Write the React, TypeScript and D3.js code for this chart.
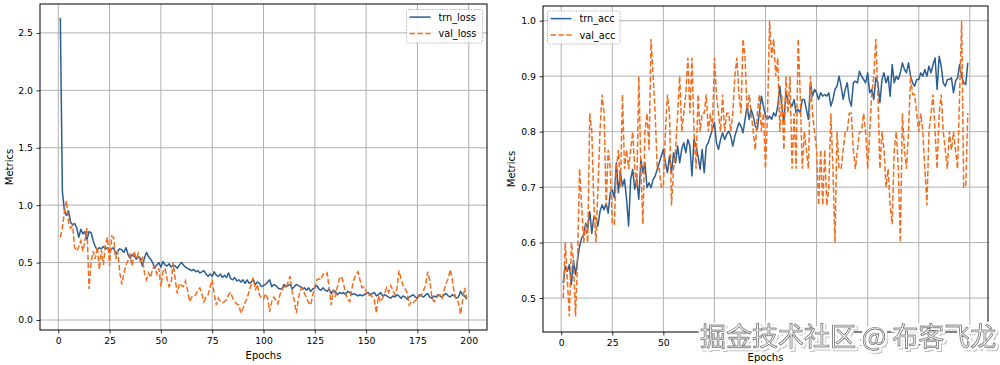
import { useEffect, useRef } from 'react';
import * as d3 from 'd3';

// epochs 1..199
const epochs = d3.range(1, 200);

const trnLoss = [
  2.63, 1.12, 0.95, 0.91, 0.95, 0.85, 0.83, 0.84, 0.80, 0.72,
  0.79, 0.75, 0.77, 0.70, 0.77, 0.76, 0.69, 0.64, 0.61, 0.63,
  0.62, 0.64, 0.62, 0.63, 0.60, 0.62, 0.63, 0.57, 0.60, 0.62,
  0.61, 0.59, 0.63, 0.57, 0.54, 0.57, 0.56, 0.53, 0.55, 0.54,
  0.47, 0.54, 0.59, 0.55, 0.53, 0.50, 0.45, 0.48, 0.50, 0.46,
  0.51, 0.48, 0.47, 0.49, 0.46, 0.48, 0.47, 0.45, 0.48, 0.50,
  0.48, 0.46, 0.45, 0.44, 0.43, 0.44, 0.42, 0.43, 0.41, 0.42,
  0.43, 0.40, 0.38, 0.40, 0.38, 0.42, 0.39, 0.38, 0.40, 0.37,
  0.39, 0.37, 0.41, 0.36, 0.35, 0.37, 0.34, 0.35, 0.33, 0.35,
  0.32, 0.35, 0.32, 0.33, 0.35, 0.31, 0.33, 0.32, 0.29, 0.30,
  0.31, 0.33, 0.35, 0.29, 0.31, 0.30, 0.28, 0.27, 0.27, 0.31,
  0.29, 0.30, 0.31, 0.27, 0.29, 0.31, 0.30, 0.29, 0.27, 0.28,
  0.26, 0.28, 0.25, 0.27, 0.28, 0.30, 0.27, 0.26, 0.28, 0.26,
  0.25, 0.27, 0.23, 0.26, 0.25, 0.22, 0.24, 0.23, 0.24, 0.22,
  0.25, 0.24, 0.22, 0.23, 0.22, 0.21, 0.22, 0.21, 0.22, 0.23,
  0.24, 0.22, 0.23, 0.24, 0.21, 0.22, 0.24, 0.21, 0.22, 0.21,
  0.20, 0.19, 0.21, 0.20, 0.22, 0.21, 0.19, 0.21, 0.20, 0.18,
  0.20, 0.21, 0.22, 0.20, 0.19, 0.22, 0.21, 0.20, 0.22, 0.23,
  0.20, 0.19, 0.21, 0.20, 0.22, 0.21, 0.20, 0.22, 0.23, 0.21,
  0.20, 0.22, 0.21, 0.19, 0.20, 0.25, 0.22, 0.21, 0.18,
];

const valLoss = [
  0.72, 0.80, 0.94, 1.04, 0.85, 0.80, 0.82, 0.63, 0.60, 0.64,
  0.69, 0.60, 0.69, 0.80, 0.27, 0.50, 0.60, 0.53, 0.64, 0.44,
  0.61, 0.48, 0.66, 0.72, 0.47, 0.73, 0.72, 0.53, 0.60, 0.41,
  0.31, 0.41, 0.48, 0.52, 0.57, 0.47, 0.60, 0.53, 0.58, 0.50,
  0.54, 0.41, 0.35, 0.41, 0.37, 0.45, 0.47, 0.40, 0.45, 0.29,
  0.42, 0.45, 0.36, 0.29, 0.32, 0.50, 0.35, 0.23, 0.32, 0.30,
  0.29, 0.34, 0.26, 0.16, 0.20, 0.20, 0.22, 0.26, 0.28, 0.23,
  0.16, 0.20, 0.22, 0.29, 0.35, 0.23, 0.13, 0.19, 0.16, 0.15,
  0.16, 0.18, 0.22, 0.24, 0.19, 0.16, 0.14, 0.13, 0.06, 0.10,
  0.15, 0.19, 0.25, 0.31, 0.37, 0.26, 0.31, 0.22, 0.19, 0.18,
  0.23, 0.19, 0.07, 0.16, 0.20, 0.17, 0.14, 0.22, 0.26, 0.29,
  0.28, 0.33, 0.38, 0.24, 0.17, 0.06, 0.19, 0.26, 0.28, 0.23,
  0.19, 0.15, 0.13, 0.22, 0.28, 0.35, 0.36, 0.35, 0.40, 0.39,
  0.41, 0.28, 0.13, 0.26, 0.20, 0.29, 0.36, 0.38, 0.32, 0.23,
  0.18, 0.16, 0.27, 0.35, 0.39, 0.42, 0.35, 0.28, 0.29, 0.25,
  0.21, 0.22, 0.20, 0.18, 0.06, 0.21, 0.16, 0.19, 0.23, 0.28,
  0.24, 0.30, 0.26, 0.22, 0.27, 0.43, 0.36, 0.30, 0.27, 0.24,
  0.13, 0.16, 0.15, 0.17, 0.19, 0.21, 0.22, 0.26, 0.30, 0.42,
  0.35, 0.20, 0.16, 0.18, 0.21, 0.22, 0.19, 0.26, 0.32, 0.36,
  0.44, 0.35, 0.23, 0.18, 0.15, 0.05, 0.17, 0.28, 0.19,
];

const trnAcc = [
  0.527, 0.557, 0.548, 0.560, 0.524, 0.568, 0.542, 0.569, 0.593, 0.608,
  0.614, 0.635, 0.626, 0.656, 0.617, 0.647, 0.644, 0.630, 0.656, 0.668,
  0.659, 0.671, 0.653, 0.689, 0.695, 0.681, 0.744, 0.690, 0.726, 0.702,
  0.714, 0.678, 0.630, 0.714, 0.732, 0.696, 0.714, 0.678, 0.750, 0.726,
  0.744, 0.699, 0.708, 0.699, 0.714, 0.720, 0.732, 0.744, 0.756, 0.768,
  0.744, 0.726, 0.756, 0.726, 0.762, 0.744, 0.774, 0.744, 0.768, 0.780,
  0.762, 0.786, 0.774, 0.720, 0.786, 0.774, 0.756, 0.732, 0.768, 0.726,
  0.774, 0.780, 0.792, 0.804, 0.816, 0.780, 0.768, 0.786, 0.798, 0.786,
  0.795, 0.801, 0.792, 0.774, 0.792, 0.804, 0.816, 0.810, 0.798, 0.822,
  0.846, 0.822, 0.840, 0.828, 0.810, 0.804, 0.834, 0.864, 0.846, 0.828,
  0.822, 0.828, 0.822, 0.834, 0.828, 0.846, 0.882, 0.846, 0.816, 0.870,
  0.858, 0.852, 0.846, 0.858, 0.834, 0.840, 0.834, 0.858, 0.858, 0.840,
  0.822, 0.888, 0.864, 0.876, 0.870, 0.858, 0.870, 0.864, 0.867, 0.864,
  0.870, 0.846, 0.858, 0.876, 0.882, 0.900, 0.882, 0.858, 0.876, 0.888,
  0.858, 0.846, 0.888, 0.891, 0.888, 0.909, 0.900, 0.894, 0.888, 0.906,
  0.870, 0.876, 0.858, 0.897, 0.888, 0.852, 0.894, 0.906, 0.888, 0.900,
  0.864, 0.921, 0.888, 0.900, 0.894, 0.906, 0.924, 0.912, 0.906, 0.924,
  0.900, 0.888, 0.882, 0.894, 0.894, 0.906, 0.900, 0.912, 0.900, 0.918,
  0.906, 0.921, 0.933, 0.876, 0.936, 0.918, 0.888, 0.882, 0.894, 0.894,
  0.897, 0.870, 0.891, 0.897, 0.921, 0.900, 0.888, 0.885, 0.924,
];

const valAcc = [
  0.500, 0.600, 0.533, 0.467, 0.600, 0.567, 0.467, 0.567, 0.733, 0.667,
  0.600, 0.633, 0.600, 0.833, 0.800, 0.667, 0.600, 0.700, 0.800, 0.867,
  0.833, 0.667, 0.767, 0.733, 0.633, 0.633, 0.733, 0.767, 0.700, 0.867,
  0.733, 0.767, 0.733, 0.767, 0.800, 0.733, 0.700, 0.900, 0.733, 0.633,
  0.800, 0.833, 0.767, 0.967, 0.900, 0.833, 0.733, 0.733, 0.700, 0.700,
  0.800, 0.867, 0.833, 0.667, 0.733, 0.767, 0.833, 0.900, 0.800, 0.833,
  0.867, 0.933, 0.833, 0.933, 0.800, 0.733, 0.867, 0.800, 0.833, 0.833,
  0.867, 0.800, 0.833, 0.800, 0.933, 0.867, 0.833, 0.800, 0.867, 0.800,
  0.833, 0.833, 0.800, 0.833, 0.900, 0.933, 0.867, 0.833, 0.967, 0.933,
  0.833, 0.867, 0.833, 0.800, 0.767, 0.833, 0.867, 0.800, 0.833, 0.733,
  0.833, 1.000, 0.933, 0.967, 0.900, 0.933, 0.800, 0.867, 0.767, 0.900,
  0.833, 0.900, 0.733, 0.833, 0.733, 0.967, 0.867, 0.733, 0.800, 0.767,
  0.733, 0.900, 0.833, 0.800, 0.767, 0.667, 0.767, 0.667, 0.767, 0.667,
  0.700, 0.833, 0.733, 0.600, 0.800, 0.733, 0.733, 0.767, 0.800, 0.800,
  0.833, 0.833, 0.767, 0.733, 0.767, 0.800, 0.800, 0.833, 0.800, 0.733,
  0.800, 0.867, 0.900, 0.967, 0.867, 0.733, 0.800, 0.767, 0.700, 0.733,
  0.667, 0.633, 0.767, 0.800, 0.733, 0.600, 0.833, 0.767, 0.733, 0.800,
  0.900, 0.867, 0.867, 0.833, 0.800, 0.833, 0.800, 0.733, 0.667, 0.800,
  0.833, 0.867, 0.800, 0.733, 0.833, 0.867, 0.800, 0.767, 0.733, 0.800,
  0.767, 0.800, 0.767, 0.733, 0.867, 1.000, 0.700, 0.700, 0.833,
];

const epochTicks = [0, 25, 50, 75, 100, 125, 150, 175, 200];
const lossTicks = [0.0, 0.5, 1.0, 1.5, 2.0, 2.5];
const accTicks = [0.5, 0.6, 0.7, 0.8, 0.9, 1.0];

const BLUE = '#2b5e92';
const ORANGE = '#f26d1d';
const FONT = '"DejaVu Sans", sans-serif';

const panels = [
  {
    box: { left: 40, right: 487, top: 4, bottom: 330 },
    yDomain: [-0.087, 2.752],
    yTicks: lossTicks,
    trn: trnLoss, val: valLoss,
    names: ['trn_loss', 'val_loss'],
    legend: { x: 406.5, y: 9.5, w: 76, h: 33.5 },
    ylabelX: 9,
  },
  {
    box: { left: 543, right: 988, top: 6, bottom: 332 },
    yDomain: [0.4388, 1.0265],
    yTicks: accTicks,
    trn: trnAcc, val: valAcc,
    names: ['trn_acc', 'val_acc'],
    legend: { x: 547.5, y: 11, w: 72.5, h: 33 },
    ylabelX: 511,
  },
];

const App = () => {
  const svgRef = useRef<SVGSVGElement>(null);

  useEffect(() => {
    const svg = d3.select(svgRef.current);
    svg.selectAll('*').remove();

    // watermark effect: grey drop shadow + white halo under the glyphs
    const filter = svg.append('defs').append('filter')
      .attr('id', 'wm-fx')
      .attr('x', '-5%').attr('y', '-30%')
      .attr('width', '110%').attr('height', '160%');
    filter.append('feMorphology')
      .attr('in', 'SourceAlpha').attr('operator', 'dilate').attr('radius', 1)
      .attr('result', 'fat');
    filter.append('feOffset')
      .attr('in', 'fat').attr('dx', 1.5).attr('dy', 1.5).attr('result', 'off');
    filter.append('feFlood').attr('flood-color', '#bdbdbd').attr('result', 'grey');
    filter.append('feComposite')
      .attr('in', 'grey').attr('in2', 'off').attr('operator', 'in').attr('result', 'shadow');
    filter.append('feMorphology')
      .attr('in', 'SourceAlpha').attr('operator', 'dilate').attr('radius', 1.5)
      .attr('result', 'halo0');
    filter.append('feFlood').attr('flood-color', '#ffffff').attr('result', 'white');
    filter.append('feComposite')
      .attr('in', 'white').attr('in2', 'halo0').attr('operator', 'in').attr('result', 'halo');
    const merge = filter.append('feMerge');
    merge.append('feMergeNode').attr('in', 'shadow');
    merge.append('feMergeNode').attr('in', 'halo');
    merge.append('feMergeNode').attr('in', 'SourceGraphic');

    panels.forEach(p => {
      const { left, right, top, bottom } = p.box;
      const g = svg.append('g');

      const x = d3.scaleLinear().domain([-8.9, 208.9]).range([left, right]);
      const y = d3.scaleLinear().domain(p.yDomain).range([bottom, top]);

      // grid
      g.selectAll('line.vgrid')
        .data(epochTicks)
        .enter()
        .append('line')
        .attr('x1', d => x(d)).attr('x2', d => x(d))
        .attr('y1', top).attr('y2', bottom)
        .attr('stroke', '#b0b0b0')
        .attr('stroke-width', 1);
      g.selectAll('line.hgrid')
        .data(p.yTicks)
        .enter()
        .append('line')
        .attr('x1', left).attr('x2', right)
        .attr('y1', d => y(d)).attr('y2', d => y(d))
        .attr('stroke', '#b0b0b0')
        .attr('stroke-width', 1);

      // series
      const line = d3.line<number>()
        .x((_, i) => x(epochs[i]))
        .y(d => y(d));

      g.append('path')
        .datum(p.trn)
        .attr('d', line)
        .attr('fill', 'none')
        .attr('stroke', BLUE)
        .attr('stroke-width', 1.5)
        .attr('stroke-linejoin', 'round');

      g.append('path')
        .datum(p.val)
        .attr('d', line)
        .attr('fill', 'none')
        .attr('stroke', ORANGE)
        .attr('stroke-width', 1.5)
        .attr('stroke-dasharray', '5.5,2.4');

      // frame
      g.append('rect')
        .attr('x', left).attr('y', top)
        .attr('width', right - left).attr('height', bottom - top)
        .attr('fill', 'none')
        .attr('stroke', '#000')
        .attr('stroke-width', 1);

      // axes
      const xAxis = d3.axisBottom(x)
        .tickValues(epochTicks)
        .tickFormat(d3.format('d'))
        .tickSize(3.5)
        .tickPadding(3.5)
        .tickSizeOuter(0);
      const yAxis = d3.axisLeft(y)
        .tickValues(p.yTicks)
        .tickFormat(d3.format('.1f'))
        .tickSize(3.5)
        .tickPadding(3.5)
        .tickSizeOuter(0);

      const gx = g.append('g')
        .attr('transform', `translate(0, ${bottom})`)
        .call(xAxis);
      const gy = g.append('g')
        .attr('transform', `translate(${left}, 0)`)
        .call(yAxis);

      [gx, gy].forEach(a => {
        a.select('.domain').remove();
        a.selectAll('line').attr('stroke', '#000').attr('stroke-width', 0.8);
        a.selectAll('text')
          .attr('fill', '#000')
          .attr('font-family', FONT)
          .attr('font-size', 9.3);
      });

      // axis labels
      g.append('text')
        .attr('x', (left + right) / 2)
        .attr('y', bottom + 28.5)
        .attr('text-anchor', 'middle')
        .attr('font-family', FONT)
        .attr('font-size', 10)
        .text('Epochs');

      g.append('text')
        .attr('transform', `translate(${p.ylabelX}, ${(top + bottom) / 2}) rotate(-90)`)
        .attr('text-anchor', 'middle')
        .attr('dominant-baseline', 'central')
        .attr('font-family', FONT)
        .attr('font-size', 10)
        .text('Metrics');

      // legend
      const lg = g.append('g').attr('transform', `translate(${p.legend.x}, ${p.legend.y})`);
      lg.append('rect')
        .attr('width', p.legend.w)
        .attr('height', p.legend.h)
        .attr('rx', 2)
        .attr('fill', '#fff')
        .attr('fill-opacity', 0.8)
        .attr('stroke', '#999')
        .attr('stroke-width', 0.8)
        .attr('stroke-dasharray', '1.2,1.2');

      [
        { name: p.names[0], color: BLUE, dash: null, yy: 7.6 },
        { name: p.names[1], color: ORANGE, dash: '5.5,2.4', yy: 24 },
      ].forEach(item => {
        lg.append('line')
          .attr('x1', 3).attr('x2', 24)
          .attr('y1', item.yy).attr('y2', item.yy)
          .attr('stroke', item.color)
          .attr('stroke-width', 1.5)
          .attr('stroke-dasharray', item.dash);
        lg.append('text')
          .attr('x', 32)
          .attr('y', item.yy)
          .attr('dominant-baseline', 'central')
          .attr('font-family', FONT)
          .attr('font-size', 9.7)
          .text(item.name);
      });
    });

    // watermark
    svg.append('text')
      .attr('x', 700).attr('y', 346)
      .attr('font-family', '"Noto Sans CJK SC", sans-serif')
      .attr('font-size', 26)
      .attr('fill', '#fff')
      .attr('stroke', '#7a7a7a')
      .attr('stroke-width', 0.9)
      .attr('filter', 'url(#wm-fx)')
      .text('掘金技术社区 @ 布客飞龙');
  }, []);

  return (
    <svg
      ref={svgRef}
      width={1000}
      height={365}
      style={{ position: 'absolute', left: 0, top: 0, background: '#fff' }}
    />
  );
};

export default App;
